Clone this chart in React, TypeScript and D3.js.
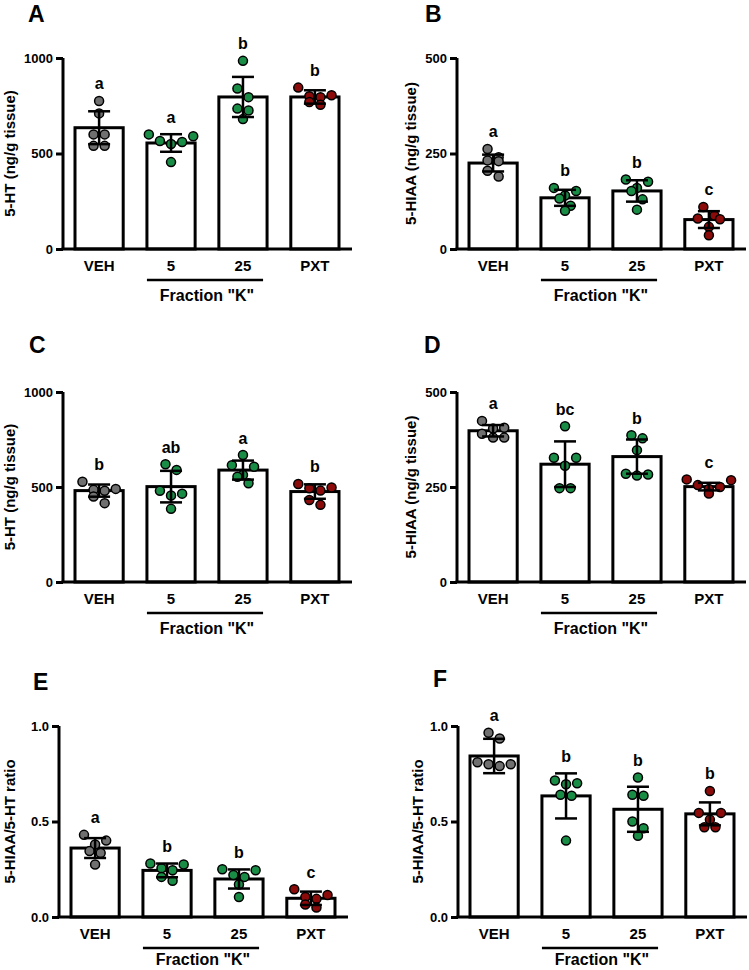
import * as d3 from "d3";
import { useEffect, useRef } from "react";

const groups = ["VEH", "5", "25", "PXT"];
const groupFill = ["#707070", "#198c46", "#198c46", "#8b0a0a"];

// A: 5-HT
const aMean = [635, 555, 796, 796];
const aSd = [86, 46, 105, 35];
const aPoints = [
  [775, 710, 600, 600, 540, 540],
  [590, 600, 565, 560, 550, 455],
  [985, 840, 795, 735, 725, 680],
  [845, 805, 800, 795, 770, 755],
];
const aLetters = ["a", "a", "b", "b"];

// B: 5-HIAA
const bMean = [225, 134, 152, 77];
const bSd = [22, 21, 28, 22];
const bPoints = [
  [262, 240, 232, 230, 205, 190],
  [160, 152, 140, 132, 113, 100],
  [182, 176, 160, 152, 130, 103],
  [110, 88, 80, 78, 58, 36],
];
const bLetters = ["a", "b", "b", "c"];

// C: 5-HT
const cMean = [481, 502, 589, 476];
const cSd = [32, 83, 50, 38];
const cPoints = [
  [528, 490, 485, 480, 450, 415],
  [620, 590, 480, 465, 455, 385],
  [668, 615, 607, 563, 554, 520],
  [516, 497, 493, 481, 432, 406],
];
const cLetters = ["b", "ab", "a", "b"];

// D: 5-HIAA
const dMean = [398, 310, 330, 251];
const dSd = [15, 60, 45, 10];
const dPoints = [
  [424, 406, 404, 390, 380, 380],
  [410, 327, 327, 306, 247, 247],
  [386, 378, 347, 285, 280, 283],
  [270, 268, 255, 250, 245, 233],
];
const dLetters = ["a", "bc", "b", "c"];

// E: ratio
const eMean = [0.361, 0.244, 0.199, 0.098];
const eSd = [0.052, 0.036, 0.05, 0.035];
const ePoints = [
  [0.43, 0.4, 0.38, 0.345, 0.335, 0.275],
  [0.28, 0.275, 0.255, 0.245, 0.21, 0.19],
  [0.25, 0.245, 0.22, 0.21, 0.17, 0.105],
  [0.145, 0.115, 0.105, 0.095, 0.065, 0.05],
];
const eLetters = ["a", "b", "b", "c"];

// F: ratio
const fMean = [0.843, 0.634, 0.564, 0.54];
const fSd = [0.09, 0.118, 0.118, 0.06];
const fPoints = [
  [0.965, 0.935, 0.81, 0.8, 0.8, 0.79],
  [0.715, 0.7, 0.695, 0.64, 0.635, 0.4],
  [0.73, 0.64, 0.635, 0.5, 0.465, 0.425],
  [0.66, 0.545, 0.545, 0.51, 0.47, 0.47],
];
const fLetters = ["a", "b", "b", "b"];

const htTicks = [0, 500, 1000];
const hiaaTicks = [0, 250, 500];
const ratioTicks = [0, 0.5, 1.0];

const FONT = "'Liberation Sans', Arial, sans-serif";
const R = 4.5;
const DOT_STROKE = 1.5;

type Panel = {
  label: string;
  title: string;
  ticks: number[];
  fmt: (v: number) => string;
  mean: number[];
  sd: number[];
  points: number[][];
  letters: string[];
  x0: number;
  xEnd: number;
  yTop: number;
  yBottom: number;
  labelX: number;
  labelY: number;
  titleX: number;
};

const intFmt = d3.format("d");
const decFmt = d3.format(".1f");

const panels: Panel[] = [
  { label: "A", title: "5-HT (ng/g tissue)", ticks: htTicks, fmt: intFmt, mean: aMean, sd: aSd, points: aPoints, letters: aLetters,
    x0: 63, xEnd: 352, yTop: 58, yBottom: 249, labelX: 28, labelY: 22, titleX: 10 },
  { label: "B", title: "5-HIAA (ng/g tissue)", ticks: hiaaTicks, fmt: intFmt, mean: bMean, sd: bSd, points: bPoints, letters: bLetters,
    x0: 457, xEnd: 746, yTop: 58, yBottom: 249, labelX: 425, labelY: 22, titleX: 411 },
  { label: "C", title: "5-HT (ng/g tissue)", ticks: htTicks, fmt: intFmt, mean: cMean, sd: cSd, points: cPoints, letters: cLetters,
    x0: 63, xEnd: 352, yTop: 392, yBottom: 582, labelX: 29, labelY: 353, titleX: 10 },
  { label: "D", title: "5-HIAA (ng/g tissue)", ticks: hiaaTicks, fmt: intFmt, mean: dMean, sd: dSd, points: dPoints, letters: dLetters,
    x0: 457, xEnd: 746, yTop: 392, yBottom: 582, labelX: 424, labelY: 353, titleX: 411 },
  { label: "E", title: "5-HIAA/5-HT ratio", ticks: ratioTicks, fmt: decFmt, mean: eMean, sd: eSd, points: ePoints, letters: eLetters,
    x0: 59, xEnd: 348, yTop: 726, yBottom: 917, labelX: 33, labelY: 690, titleX: 10 },
  { label: "F", title: "5-HIAA/5-HT ratio", ticks: ratioTicks, fmt: decFmt, mean: fMean, sd: fSd, points: fPoints, letters: fLetters,
    x0: 458, xEnd: 747, yTop: 726, yBottom: 917, labelX: 433, labelY: 687, titleX: 418 },
];

// prism-like scatter: points close in y share a row, spread symmetrically
function spread(ys: number[], minDist: number): number[] {
  const order = ys.map((_, i) => i).sort((a, b) => ys[a] - ys[b]);
  const out = new Array(ys.length).fill(0);
  const rows: number[][] = [];
  for (const i of order) {
    const row = rows[rows.length - 1];
    if (row && ys[i] - ys[row[0]] < minDist * 0.9) row.push(i);
    else rows.push([i]);
  }
  for (const row of rows) {
    const n = row.length;
    const slots = d3.range(n).map((k) => (k - (n - 1) / 2) * minDist);
    // alternate from the outside in so the row zig-zags a little
    const orderSlots = slots.slice().sort((a, b) => Math.abs(b) - Math.abs(a) || a - b);
    row.forEach((idx, k) => {
      out[idx] = orderSlots[k];
    });
  }
  return out;
}

function drawPanel(svg: d3.Selection<SVGSVGElement, unknown, null, undefined>, p: Panel) {
  const g = svg.append("g");
  const maxV = p.ticks[p.ticks.length - 1];
  const y = d3.scaleLinear().domain([0, maxV]).range([p.yBottom, p.yTop]);
  const x = d3.scaleBand<string>().domain(groups).range([p.x0 + 12, p.xEnd - 13]).paddingInner(0.33).paddingOuter(0);
  const bw = x.bandwidth();

  // panel letter
  g.append("text")
    .attr("x", p.labelX)
    .attr("y", p.labelY)
    .attr("font-family", FONT)
    .attr("font-weight", "bold")
    .attr("font-size", 23)
    .text(p.label);

  // bars
  g.selectAll("rect.bar")
    .data(groups)
    .join("rect")
    .attr("x", (d) => x(d)!)
    .attr("y", (d, i) => y(p.mean[i]))
    .attr("width", bw)
    .attr("height", (d, i) => y(0) - y(p.mean[i]))
    .attr("fill", "white")
    .attr("stroke", "black")
    .attr("stroke-width", 3);

  // points
  groups.forEach((grp, i) => {
    const ys = p.points[i].map((v) => y(v));
    const offs = spread(ys, 2 * R + DOT_STROKE + 0.6);
    const cx = x(grp)! + bw / 2;
    g.append("g")
      .selectAll("circle")
      .data(p.points[i])
      .join("circle")
      .attr("cx", (d, j) => cx + offs[j])
      .attr("cy", (d) => y(d))
      .attr("r", R)
      .attr("fill", groupFill[i])
      .attr("stroke", "black")
      .attr("stroke-width", DOT_STROKE);
  });

  // error bars (mean ± SD)
  const eb = g.append("g").attr("stroke", "black").attr("stroke-width", 2.5).attr("fill", "none");
  groups.forEach((grp, i) => {
    const cx = x(grp)! + bw / 2;
    const hi = y(p.mean[i] + p.sd[i]);
    const lo = y(Math.max(0, p.mean[i] - p.sd[i]));
    eb.append("line").attr("x1", cx).attr("x2", cx).attr("y1", hi).attr("y2", lo);
    eb.append("line").attr("x1", cx - 11).attr("x2", cx + 11).attr("y1", hi).attr("y2", hi);
    eb.append("line").attr("x1", cx - 11).attr("x2", cx + 11).attr("y1", lo).attr("y2", lo);
  });

  // significance letters
  g.selectAll("text.sig")
    .data(p.letters)
    .join("text")
    .attr("x", (d, i) => x(groups[i])! + bw / 2)
    .attr("y", (d, i) => {
      const top = Math.max(p.mean[i] + p.sd[i], d3.max(p.points[i])!);
      return y(top) - R - 7;
    })
    .attr("text-anchor", "middle")
    .attr("font-family", FONT)
    .attr("font-weight", "bold")
    .attr("font-size", 16)
    .text((d) => d);

  // y axis
  const yAxis = g.append("g")
    .attr("transform", `translate(${p.x0},0)`)
    .call(d3.axisLeft(y).tickValues(p.ticks).tickFormat((v) => p.fmt(v as number)).tickSize(7).tickPadding(3));
  yAxis.select(".domain").attr("stroke-width", 3).attr("d", `M0,${p.yTop}V${p.yBottom}`);
  yAxis.selectAll(".tick line").attr("stroke-width", 3);
  yAxis.selectAll(".tick text")
    .attr("font-family", FONT)
    .attr("font-weight", "bold")
    .attr("font-size", 13)
    .attr("fill", "black");

  // x axis line
  g.append("line")
    .attr("x1", p.x0 - 1.5)
    .attr("x2", p.xEnd)
    .attr("y1", p.yBottom)
    .attr("y2", p.yBottom)
    .attr("stroke", "black")
    .attr("stroke-width", 3);

  // x labels
  g.selectAll("text.xl")
    .data(groups)
    .join("text")
    .attr("x", (d) => x(d)! + bw / 2)
    .attr("y", p.yBottom + 22)
    .attr("text-anchor", "middle")
    .attr("font-family", FONT)
    .attr("font-weight", "bold")
    .attr("font-size", 15)
    .text((d) => d);

  // Fraction "K" bracket
  g.append("line")
    .attr("x1", x("5")!)
    .attr("x2", x("25")! + bw - 4)
    .attr("y1", p.yBottom + 31)
    .attr("y2", p.yBottom + 31)
    .attr("stroke", "black")
    .attr("stroke-width", 2.5);
  g.append("text")
    .attr("x", (x("5")! + x("25")! + bw) / 2)
    .attr("y", Math.min(p.yBottom + 52, 965))
    .attr("text-anchor", "middle")
    .attr("font-family", FONT)
    .attr("font-weight", "bold")
    .attr("font-size", 16)
    .text('Fraction "K"');

  // y title
  g.append("text")
    .attr("transform", `translate(${p.titleX},${(p.yTop + p.yBottom) / 2}) rotate(-90)`)
    .attr("dy", "0.35em")
    .attr("text-anchor", "middle")
    .attr("font-family", FONT)
    .attr("font-weight", "bold")
    .attr("font-size", 15)
    .text(p.title);
}

export default function App() {
  const ref = useRef<SVGSVGElement>(null);

  useEffect(() => {
    document.body.style.margin = "0";
    if (!ref.current) return;
    const svg = d3.select(ref.current);
    svg.selectAll("*").remove();
    panels.forEach((p) => drawPanel(svg, p));
  }, []);

  return <svg ref={ref} width={749} height={970} style={{ display: "block", background: "white" }} />;
}
